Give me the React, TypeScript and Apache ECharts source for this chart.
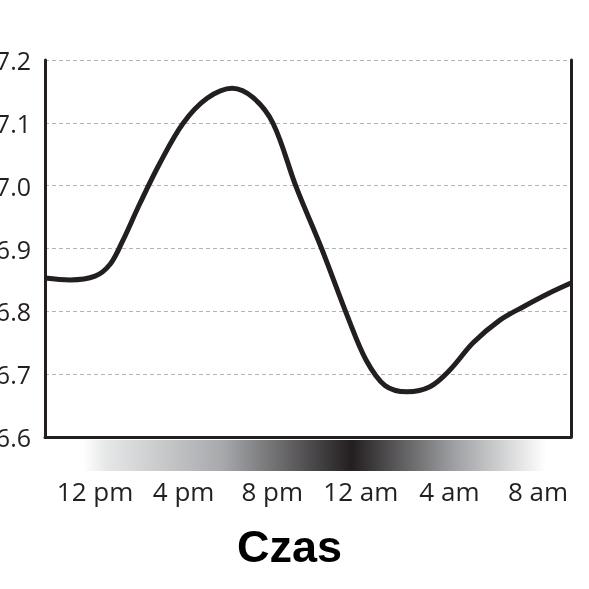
import React, { useEffect, useRef } from "react";
import * as echarts from "echarts";

// hours counted from noon (0 = 12 pm)
const hours = [
  -2.26, -1.13, 0, 0.68, 1.22, 2.03, 2.93, 3.97, 5.06, 6.19, 7.14, 8.04, 9.08, 10.25,
  11.42, 12.23, 13.09, 14.09, 15.12, 16.03, 17.07, 18.28, 19.32, 20.45, 21.49,
];
const temps = [
  36.853, 36.85, 36.856, 36.875, 36.91, 36.972, 37.036, 37.099, 37.139, 37.155, 37.14,
  37.099, 36.998, 36.898, 36.79, 36.723, 36.682, 36.672, 36.68, 36.707, 36.75, 36.786,
  36.807, 36.828, 36.845,
];
const tickHours = [0, 4, 8, 12, 16, 20];
const tickLabels = ["12 pm", "4 pm", "8 pm", "12 am", "4 am", "8 am"];
const title = "Czas";

const ink = "#231f20";
const style: React.CSSProperties = { position: "fixed", left: 0, top: 0, width: "589px", height: "589px" };

const App: React.FC = () => {
  const chartRef = useRef<HTMLDivElement>(null);

  useEffect(() => {
    if (!chartRef.current) return;
    const chart = echarts.init(chartRef.current, null, { renderer: "svg" });

    const option = {
      animation: false,
      title: {
        text: title,
        left: 232,
        top: 519,
        textStyle: { fontFamily: "Liberation Sans", fontWeight: "bold", fontSize: 45, color: "#000" },
      },
      grid: { left: 45, right: 18, top: 60, bottom: 152, outerBoundsMode: "none", containLabel: false },
      graphic: [
        {
          type: "rect",
          shape: { x: 83, y: 440, width: 463, height: 31 },
          silent: true,
          style: {
            fill: new echarts.graphic.LinearGradient(0, 0, 1, 0, [
              { offset: 0, color: "#ffffff" },
              { offset: 0.05, color: "#e6e7e8" },
              { offset: 0.3, color: "#a7a9ac" },
              { offset: 0.58, color: "#231f20" },
              { offset: 0.8, color: "#9d9fa2" },
              { offset: 1, color: "#ffffff" },
            ]),
          },
        },
      ],
      xAxis: {
        type: "value",
        min: -2.26,
        max: 21.49,
        axisLine: { show: true, onZero: false, lineStyle: { color: ink, width: 3 } },
        axisTick: { show: false },
        splitLine: { show: false },
        axisLabel: {
          customValues: tickHours,
          margin: 41,
          formatter: (v: number) => tickLabels[tickHours.indexOf(v)] ?? "",
          fontFamily: "Open Sans",
          fontSize: 26,
          color: ink,
        },
      },
      yAxis: [
        {
          type: "value",
          min: 36.6,
          max: 37.2,
          interval: 0.1,
          axisLine: { show: true, onZero: false, lineStyle: { color: ink, width: 3 } },
          axisTick: { show: false },
          axisLabel: {
            margin: 14,
            formatter: (v: number) => v.toFixed(1),
            fontFamily: "Open Sans",
            fontSize: 25,
            color: ink,
          },
          splitLine: { show: true, lineStyle: { color: "#b1b3b6", width: 1, type: [4, 3] } },
        },
        {
          type: "value",
          position: "right",
          min: 36.6,
          max: 37.2,
          interval: 0.1,
          axisLine: { show: true, onZero: false, lineStyle: { color: ink, width: 3 } },
          axisTick: { show: false },
          axisLabel: { show: false },
          splitLine: { show: false },
        },
      ],
      series: [
        {
          type: "line",
          data: hours.map((h, i) => [h, temps[i]]),
          smooth: 0.35,
          symbol: "none",
          lineStyle: { color: ink, width: 5 },
        },
      ],
    };

    chart.setOption(option);
    return () => {
      chart.dispose();
    };
  }, []);

  return <div ref={chartRef} style={style} />;
};

export default App;
